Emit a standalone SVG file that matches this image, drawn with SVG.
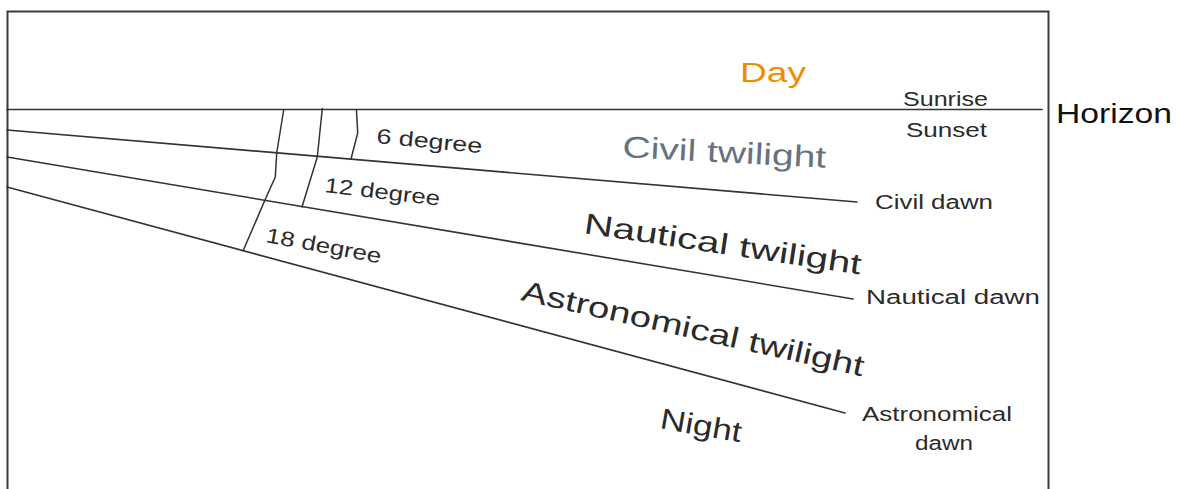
<svg xmlns="http://www.w3.org/2000/svg" width="1179" height="489" viewBox="0 0 1179 489">
  <style>
    .frame { fill: none; stroke: #3a3a3a; stroke-width: 2; }
    .ray { fill: none; stroke: #333333; stroke-width: 1.6; stroke-linecap: round; stroke-linejoin: round; }
    .arc { fill: none; stroke: #333333; stroke-width: 1.5; stroke-linecap: round; stroke-linejoin: round; }
    text { font-family: "Liberation Sans", "DejaVu Sans", sans-serif; fill: #1e1e1e; }
    .day { fill: #f08c00; font-size: 28px; }
    .civil { fill: #66737f; font-size: 30px; }
    .band { font-size: 29px; fill: #2b2b2b; }
    .small { font-size: 20px; fill: #2b2b2b; }
    .deg { font-size: 21px; fill: #2b2b2b; }
    .horizon { font-size: 27px; fill: #111111; }
  </style>

  <!-- outer frame (bottom edge runs past the canvas) -->
  <rect class="frame" x="7.5" y="11.5" width="1041" height="500"/>

  <!-- horizon and the three depression lines -->
  <g id="connectors">
    <path class="ray" d="M7 109.5 L1042 109.5" stroke-width="2"/>
    <path class="ray" d="M7 130 L857 202"/>
    <path class="ray" d="M7 157 L853 299"/>
    <path class="ray" d="M7 187 L845 413"/>
    <!-- angle arcs -->
    <path class="arc" d="M356.5 110.5 L357.7 133 L351 159"/>
    <path class="arc" d="M322.3 108.5 L317.3 157 L302 207"/>
    <path class="arc" d="M283.7 110 L276.7 153 L275.3 177 L265 200 L243 251"/>
  </g>

  <g id="day"><text class="day" x="740" y="82" textLength="66" lengthAdjust="spacingAndGlyphs">Day</text></g>
  <g id="horizon"><text class="horizon" x="1056" y="123" textLength="116" lengthAdjust="spacingAndGlyphs">Horizon</text></g>
  <g id="sunrise"><text class="small" x="903" y="106" textLength="85" lengthAdjust="spacingAndGlyphs">Sunrise</text></g>
  <g id="sunset"><text class="small" x="906" y="137" textLength="81" lengthAdjust="spacingAndGlyphs">Sunset</text></g>

  <g id="civil-twilight">
    <text class="civil" transform="translate(622 157) rotate(3)" textLength="204" lengthAdjust="spacingAndGlyphs">Civil twilight</text>
  </g>
  <g id="civil-dawn"><text class="small" x="875" y="209" textLength="118" lengthAdjust="spacingAndGlyphs">Civil dawn</text></g>

  <g id="nautical-twilight">
    <text class="band" transform="translate(583 233) rotate(8.5)" textLength="280" lengthAdjust="spacingAndGlyphs">Nautical twilight</text>
  </g>
  <g id="nautical-dawn"><text class="small" x="866" y="304" textLength="174" lengthAdjust="spacingAndGlyphs">Nautical dawn</text></g>

  <g id="astronomical-twilight">
    <text class="band" font-size="30" transform="translate(520 300) rotate(12.6)" textLength="350" lengthAdjust="spacingAndGlyphs">Astronomical twilight</text>
  </g>
  <g id="astronomical-dawn">
    <text class="small" x="862" y="421" textLength="150" lengthAdjust="spacingAndGlyphs">Astronomical</text>
    <text class="small" x="915" y="450" textLength="58" lengthAdjust="spacingAndGlyphs">dawn</text>
  </g>

  <g id="night">
    <text class="band" transform="translate(659 428) rotate(10)" textLength="82" lengthAdjust="spacingAndGlyphs">Night</text>
  </g>

  <g id="degrees">
    <text class="deg" transform="translate(376 143) rotate(5.5)" textLength="106" lengthAdjust="spacingAndGlyphs">6 degree</text>
    <text class="deg" transform="translate(324 192) rotate(6.8)" textLength="116" lengthAdjust="spacingAndGlyphs">12 degree</text>
    <text class="deg" transform="translate(265 242) rotate(10.5)" textLength="117" lengthAdjust="spacingAndGlyphs">18 degree</text>
  </g>
</svg>
